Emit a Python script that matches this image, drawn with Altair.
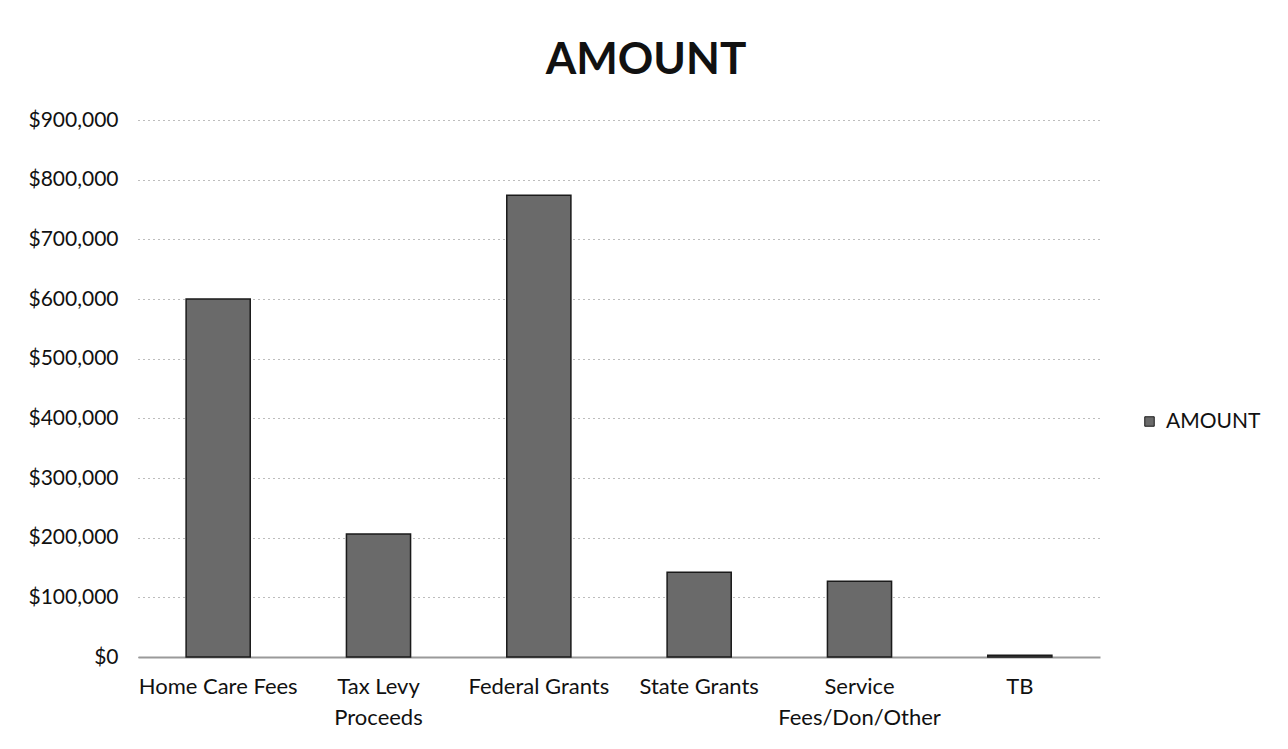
import altair as alt
import pandas as pd

categories = ["Home Care Fees", "Tax Levy Proceeds", "Federal Grants",
              "State Grants", "Service Fees/Don/Other", "TB"]
amounts = [600000, 206000, 774000, 142000, 127000, 3000]
series_name = "AMOUNT"
y_ticks = [0, 100000, 200000, 300000, 400000, 500000, 600000, 700000, 800000, 900000]

df = pd.DataFrame({"category": categories, "amount": amounts, "series": [series_name] * len(categories)})

FONT = "Lato"

label_expr = ("datum.value == 'Tax Levy Proceeds' ? ['Tax Levy', 'Proceeds'] : "
              "datum.value == 'Service Fees/Don/Other' ? ['Service', 'Fees/Don/Other'] : datum.label")

bars = alt.Chart(df).mark_bar(stroke="#1a1a1a", strokeWidth=1.5).encode(
    x=alt.X("category:N", sort=categories, title=None,
            scale=alt.Scale(paddingInner=0.6, paddingOuter=0.3),
            axis=alt.Axis(labelAngle=0, ticks=False, domain=True, domainColor="#9a9a9a",
                          domainWidth=2, labelFont=FONT, labelFontSize=22, labelColor="#111",
                          labelPadding=19, labelLineHeight=31, labelExpr=label_expr, grid=False)),
    y=alt.Y("amount:Q", title=None,
            scale=alt.Scale(domain=[0, 900000], nice=False),
            axis=alt.Axis(values=y_ticks, format="$,.0f", ticks=False, domain=False,
                          labelFont=FONT, labelFontSize=21, labelColor="#111", labelPadding=20,
                          grid=True, gridColor="#7a7a7a", gridDash=[1, 4], gridWidth=1)),
    color=alt.Color("series:N", title=None,
                    scale=alt.Scale(range=["#6a6a6a"]),
                    legend=alt.Legend(orient="none", legendX=1001, legendY=291,
                                      symbolType="square", symbolSize=90,
                                      symbolStrokeColor="#1a1a1a", symbolStrokeWidth=1,
                                      labelFont=FONT, labelFontSize=21, labelColor="#111",
                                      labelOffset=6)),
)

chart = bars.properties(
    width=962, height=537,
    background="white",
    autosize=alt.AutoSizeParams(type="none"),
    padding={"left": 130, "top": 112, "right": 180, "bottom": 84},
    title=alt.TitleParams("AMOUNT", font=FONT, fontSize=44, fontWeight="bold",
                          color="#111", anchor="middle", offset=26, dx=27),
).configure_view(strokeWidth=0, stroke="transparent")

chart.save("out.html", embed_options={"renderer": "svg", "actions": False})
